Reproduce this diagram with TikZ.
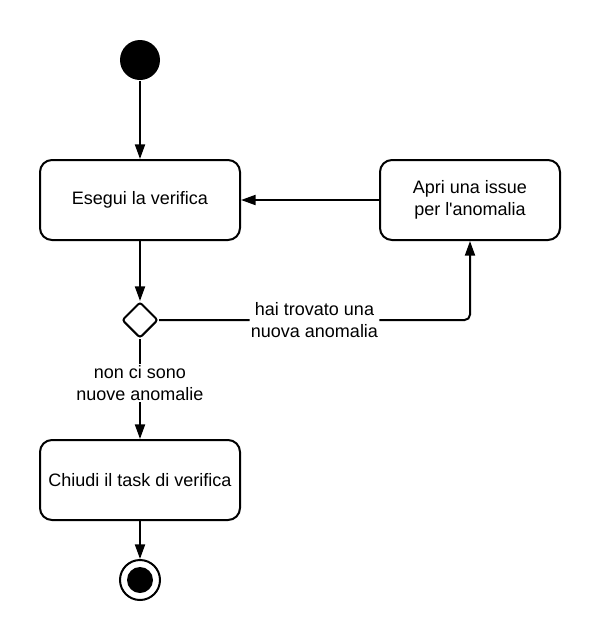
\documentclass[tikz,border=0pt]{standalone}
\usepackage{fontspec}
\setmainfont{Liberation Sans}[Ligatures=TeXOff]
\usetikzlibrary{arrows.meta,shapes.geometric}

\tikzset{every picture/.style={line width=1.5pt}}
\tikzset{
	activity/.style={draw, rounded corners=9pt, minimum width=150pt, minimum height=60pt, align=center, font=\fontsize{13.5}{16}\selectfont},
	startdot/.style={circle, fill=black, inner sep=0pt, minimum size=30pt},
	enddot/.style={circle, draw, inner sep=0pt, minimum size=30pt},
	choice/.style={diamond, draw, rounded corners=2pt, inner sep=0pt, minimum width=27pt, minimum height=27pt},
	guard/.style={fill=white, align=center, inner sep=1pt, font=\fontsize{13.5}{16}\selectfont},
	flow/.style={-{Triangle[length=11pt,width=7.5pt]}}
}

\begin{document}
\begin{tikzpicture}[x=0.75pt,y=0.75pt,yscale=-1,xscale=1]
	\useasboundingbox (0,0) rectangle (600,640);

	%Shape: Circle [start]
	\node [startdot] (start) at (140,60) {};
	%Shape: Rounded Rect [esegui]
	\node [activity] (esegui) at (140,200) {Esegui la verifica};
	%Shape: Rounded Rect [apri]
	\node [activity, minimum width=135pt] (apri) at (470,200) {Apri una issue\\per l'anomalia};
	%Shape: Diamond [scelta]
	\node [choice] (scelta) at (140,320) {};
	%Shape: Rounded Rect [chiudi]
	\node [activity] (chiudi) at (140,480) {Chiudi il task di verifica};
	%Shape: Circle [fine]
	\node [enddot] (fine) at (140,580) {};
	\node [startdot, minimum size=19.5pt] (fineint) at (fine) {};

	%Straight Lines
	\draw [flow] (start) -- (esegui);
	\draw [flow] (apri) -- (esegui);
	\draw [flow] (esegui) -- (scelta);
	\draw [flow, rounded corners=4pt] (scelta.east) -| node [guard, pos=0.25] {hai trovato una\\nuova anomalia} (apri.south);
	\draw [flow] (scelta) -- node [guard, pos=0.44] {non ci sono\\nuove anomalie} (chiudi);
	\draw [flow] (chiudi) -- (fine);

\end{tikzpicture}
\end{document}
